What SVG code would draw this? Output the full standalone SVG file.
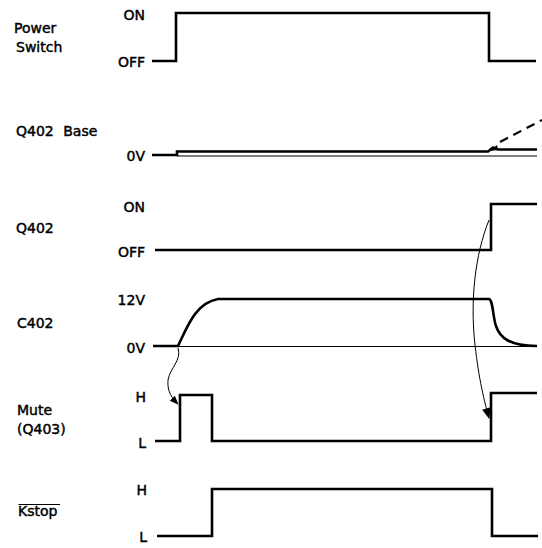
<svg xmlns="http://www.w3.org/2000/svg" width="542" height="548" viewBox="0 0 542 548">
<style>
text{font-family:"DejaVu Sans","Liberation Sans",sans-serif;font-size:14px;fill:#000;stroke:#000;stroke-width:0.45}
.r{text-anchor:end}
.w{fill:none;stroke:#000;stroke-width:2.6;stroke-linejoin:miter}
.t{fill:none;stroke:#000;stroke-width:1}
.d{fill:none;stroke:#000;stroke-width:2.2;stroke-dasharray:9,6}
</style>
<defs>
<marker id="ah" viewBox="0 0 10 10" refX="9" refY="5" markerWidth="9" markerHeight="9" markerUnits="userSpaceOnUse" orient="auto">
<path d="M0,1 L10,5 L0,9 Z" fill="#000"/>
</marker>
<marker id="ah2" viewBox="0 0 10 10" refX="9" refY="5" markerWidth="16" markerHeight="11" markerUnits="userSpaceOnUse" orient="auto">
<path d="M0,1 L10,5 L0,9 Z" fill="#000"/>
</marker>
</defs>
<g id="power-switch">
<text x="14" y="33">Power</text>
<text x="16" y="52">Switch</text>
<text class="r" x="145" y="20">ON</text>
<text class="r" x="145" y="67">OFF</text>
<path class="w" d="M152,61 H176 V13 H489 V61 H536"/>
</g>
<g id="q402-base">
<text x="16" y="136" word-spacing="5">Q402 Base</text>
<text class="r" x="145" y="161">0V</text>
<path class="w" d="M152,155 H177 V151.5 H488 L493,147.5 L498,149.5 H537"/>
<path d="M490,151 L497,145 L498,150 Z" fill="#000"/>
<path class="t" d="M177,156 H537"/>
<path class="d" d="M500,142 L542,120"/>
</g>
<g id="q402">
<text class="r" x="145" y="212">ON</text>
<text x="16" y="233">Q402</text>
<text class="r" x="145" y="257">OFF</text>
<path class="w" d="M155,250 H491 V204 H537"/>
</g>
<g id="c402">
<text class="r" x="145" y="305">12V</text>
<text x="17" y="328">C402</text>
<text class="r" x="145" y="353">0V</text>
<path class="w" d="M153,346 H178 C188,325 196,303 218,299 H489 C493,300 493,318 496,326 C500,338 510,346 537,346"/>
<path class="t" d="M178,346.5 H537"/>
</g>
<g id="mute">
<text class="r" x="146" y="402">H</text>
<text x="17" y="415">Mute</text>
<text x="17" y="434">(Q403)</text>
<text class="r" x="146" y="448">L</text>
<path class="w" d="M155,441 H180 V395 H212 V441 H491 V393 H537"/>
</g>
<g id="kstop">
<text class="r" x="147" y="495">H</text>
<text x="18" y="516">Kstop</text>
<path class="t" d="M18.5,504.5 H60" stroke-width="1.5"/>
<text class="r" x="147" y="542">L</text>
<path class="w" d="M157,536 H212 V489 H492 V536 H538"/>
</g>
<g id="connectors">
<path class="t" d="M178,348 C182,360 170,368 168,380 C167,392 172,398 178,404" marker-end="url(#ah)"/>
<path class="t" d="M489,220 C475,255 470,300 475,345 C479,380 484,400 489,418" marker-end="url(#ah2)"/>
</g>
</svg>
